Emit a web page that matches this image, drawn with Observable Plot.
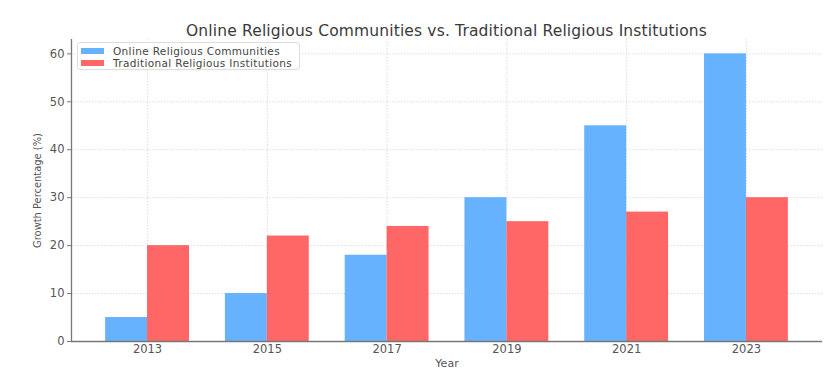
<!DOCTYPE html>
<html>
<head>
<meta charset="utf-8">
<script src="https://cdn.jsdelivr.net/npm/d3@7"></script>
<script src="https://cdn.jsdelivr.net/npm/@observablehq/plot@0.6"></script>
<style>
  html, body { margin: 0; padding: 0; background: #fff; }
  #wrap { position: relative; width: 834px; height: 380px; font-family: "DejaVu Sans", sans-serif; }
  #title { position: absolute; left: 71px; width: 751px; top: 22px; text-align: center; font-size: 15.5px; letter-spacing: 0.15px; color: #3a3a3a; }
  #legend { position: absolute; left: 77px; top: 42px; width: 221px; height: 26px; border: 1px solid #ddd; border-radius: 3px; background: rgba(255,255,255,0.85); font-size: 10.5px; letter-spacing: 0.35px; color: #444; }
  .item { position: absolute; left: 3px; height: 12px; display: flex; align-items: center; white-space: nowrap; }
  .sw { width: 23px; height: 6px; margin-right: 9px; }
</style>
</head>
<body>
<div id="wrap">
  <div id="chart"></div>
  <div id="title"></div>
  <div id="legend"></div>
</div>
<script>
const years = [2013, 2015, 2017, 2019, 2021, 2023];
const onlineValues = [5, 10, 18, 30, 45, 60];
const traditionalValues = [20, 22, 24, 25, 27, 30];
const seriesNames = ["Online Religious Communities", "Traditional Religious Institutions"];
const seriesColors = ["#66b2ff", "#ff6666"];
const yTicks = [0, 10, 20, 30, 40, 50, 60];
const titleText = "Online Religious Communities vs. Traditional Religious Institutions";

const barW = 0.35;
const rows = [];
years.forEach((y, i) => {
  rows.push({i, year: y, series: seriesNames[0], value: onlineValues[i], off: -barW});
  rows.push({i, year: y, series: seriesNames[1], value: traditionalValues[i], off: 0});
});
const idx = years.map((_, i) => i);
const xMin = -0.635, xMax = 5.635;

const plot = Plot.plot({
  width: 834,
  height: 380,
  marginTop: 39,
  marginBottom: 39,
  marginLeft: 71,
  marginRight: 12,
  style: {fontFamily: "DejaVu Sans, sans-serif", background: "#fff"},
  x: {domain: [xMin, xMax]},
  y: {domain: [0, 63]},
  color: {domain: seriesNames, range: seriesColors},
  marks: [
    Plot.gridX(idx, {x: d => d, stroke: "#d4d4d4", strokeOpacity: 1, strokeDasharray: "1.5,1.5", strokeWidth: 0.8}),
    Plot.gridY(yTicks, {y: d => d, stroke: "#d4d4d4", strokeOpacity: 1, strokeDasharray: "1.5,1.5", strokeWidth: 0.8}),
    Plot.rect(rows, {x1: d => d.i + d.off, x2: d => d.i + d.off + barW, y1: d => 0, y2: d => d.value, fill: d => d.series}),
    Plot.axisY(yTicks, {anchor: "left", tickSize: 4, tickPadding: 3, stroke: "#777", fill: "#555", fontSize: 11.5, letterSpacing: "0.4px", label: null}),
    Plot.axisX(idx, {anchor: "bottom", tickSize: 0, tickPadding: 3, tickFormat: d => String(years[d]), fill: "#555", fontSize: 11.5, letterSpacing: "0.8px", label: null}),
    Plot.ruleX([xMin], {x: d => d, stroke: "#777", strokeWidth: 1.3}),
    Plot.ruleY([0], {y: d => d, stroke: "#777", strokeWidth: 1.3}),
    Plot.text(["Year"], {frameAnchor: "bottom", text: d => d, dy: 25, fontSize: 11, fill: "#555"}),
    Plot.text(["Growth Percentage (%)"], {frameAnchor: "left", text: d => d, textAnchor: "middle", rotate: -90, dx: -34, fontSize: 11, fill: "#555", fontFamily: "DejaVu Sans Condensed, DejaVu Sans, sans-serif"})
  ]
});
document.getElementById("chart").appendChild(plot);
document.getElementById("title").textContent = titleText;
const leg = document.getElementById("legend");
seriesNames.forEach((n, k) => {
  const it = document.createElement("div");
  it.className = "item";
  it.style.top = (2 + k * 11.5) + "px";
  const sw = document.createElement("span");
  sw.className = "sw";
  sw.style.background = seriesColors[k];
  const t = document.createElement("span");
  t.textContent = n;
  it.appendChild(sw); it.appendChild(t);
  leg.appendChild(it);
});
</script>
</body>
</html>
